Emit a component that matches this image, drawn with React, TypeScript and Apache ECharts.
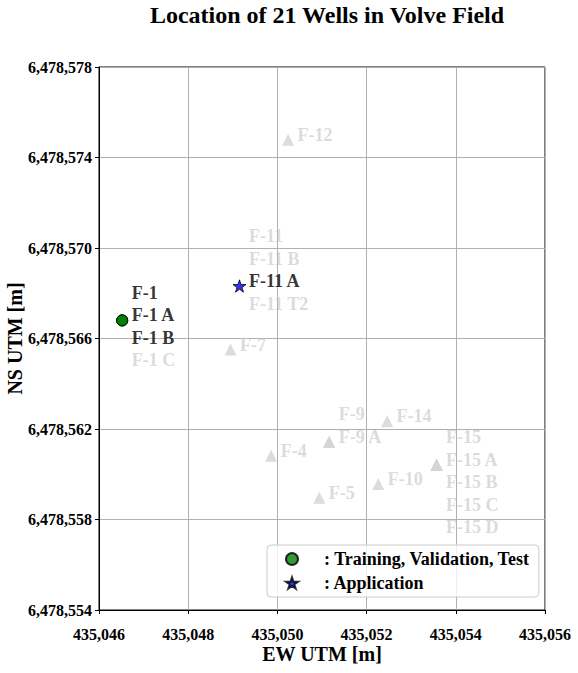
import React, { useEffect, useRef } from "react";
import * as echarts from "echarts";

const TITLE = "Location of 21 Wells in Volve Field";
const X_NAME = "EW UTM [m]";
const Y_NAME = "NS UTM [m]";
const X_MIN = 435046;
const X_MAX = 435056;
const X_STEP = 2;
const Y_TICKS = [6478554, 6478558, 6478562, 6478566, 6478570, 6478574, 6478578];
const LEGEND_TRAIN = ": Training, Validation, Test";
const LEGEND_APP = ": Application";

const wellNames = [
  "F-1", "F-1 A", "F-1 B", "F-1 C",
  "F-11", "F-11 B", "F-11 A", "F-11 T2",
  "F-12", "F-7", "F-9", "F-9 A", "F-14", "F-4", "F-5", "F-10",
  "F-15", "F-15 A", "F-15 B", "F-15 C", "F-15 D",
];
const wellEast = [
  435046.52, 435046.52, 435046.52, 435046.52,
  435049.15, 435049.15, 435049.15, 435049.15,
  435050.24, 435048.95, 435051.16, 435051.16, 435052.46, 435049.86, 435050.94, 435052.26,
  435053.57, 435053.57, 435053.57, 435053.57, 435053.57,
];
const wellNorth = [
  6478566.8, 6478566.8, 6478566.8, 6478566.8,
  6478568.32, 6478568.32, 6478568.32, 6478568.32,
  6478574.78, 6478565.51, 6478561.44, 6478561.44, 6478562.34, 6478560.82, 6478558.96, 6478559.57,
  6478560.42, 6478560.42, 6478560.42, 6478560.42, 6478560.42,
];
const wellRole = [
  "train", "train", "train", "other",
  "other", "other", "app", "other",
  "other", "other", "other", "other", "other", "other", "other", "other",
  "other", "other", "other", "other", "other",
];
const labelSlot = [-1, 0, 1, 2, -2, -1, 0, 1, 0, 0, -1, 0, 0, 0, 0, 0, -1, 0, 1, 2, 3];

const STAR = "path://M50 0 L61.23 34.55 L97.55 34.55 L68.16 55.9 L79.39 90.45 L50 69.1 L20.61 90.45 L31.84 55.9 L2.45 34.55 L38.77 34.55 Z";
const FONT = "'Liberation Serif', 'Times New Roman', serif";
const GRAY_TEXT = "rgba(192,192,192,0.72)";

export default function App() {
  const ref = useRef<HTMLDivElement>(null);
  useEffect(() => {
    if (!ref.current) return;
    const chart = echarts.init(ref.current, undefined, { renderer: "svg" });
    const fmt = (v: number) => Math.round(v).toLocaleString("en-US");

    const isKey = (i: number) => wellRole[i] !== "other";
    const trainPts: number[][] = [];
    const appPts: number[][] = [];
    const otherPts: number[][] = [];
    wellNames.forEach((_, i) => {
      const p = [wellEast[i], wellNorth[i]];
      if (wellRole[i] === "train") trainPts.push(p);
      else if (wellRole[i] === "app") appPts.push(p);
      else {
        const covered = wellNames.some(
          (_, j) => isKey(j) && wellEast[j] === wellEast[i] && wellNorth[j] === wellNorth[i]
        );
        if (!covered) otherPts.push(p);
      }
    });

    const labelData = wellNames.map((n, i) => ({
      name: n,
      value: [wellEast[i], wellNorth[i]],
      label: {
        offset: [9, -5 + labelSlot[i] * 22.5],
        color: isKey(i) ? "#000" : GRAY_TEXT,
      },
    }));

    chart.setOption({
      animation: false,
      textStyle: { fontFamily: FONT },
      title: {
        text: TITLE,
        left: 322,
        textAlign: "center",
        top: -2,
        textStyle: { fontFamily: FONT, fontSize: 24, fontWeight: "bold", color: "#000" },
      },
      grid: {
        left: 99,
        right: 33,
        top: 67,
        bottom: 63,
        outerBoundsMode: "none",
        containLabel: false,
        show: true,
        borderColor: "#000",
        borderWidth: 1,
        backgroundColor: "transparent",
      },
      legend: {
        data: [LEGEND_TRAIN, LEGEND_APP],
        orient: "vertical",
        left: 267,
        top: 545,
        padding: [5, 9, 5, 18],
        itemGap: 6,
        itemWidth: 12,
        itemHeight: 12,
        backgroundColor: "rgba(255,255,255,0.8)",
        borderColor: "#cccccc",
        borderWidth: 1,
        borderRadius: 4,
        textStyle: {
          fontFamily: FONT,
          fontSize: 18,
          fontWeight: "bold",
          color: "#000",
          padding: [0, 0, 0, 21],
        },
      },
      xAxis: {
        type: "value",
        min: X_MIN,
        max: X_MAX,
        interval: X_STEP,
        name: X_NAME,
        nameLocation: "middle",
        nameGap: 34,
        nameMoveOverlap: false,
        nameTextStyle: { fontFamily: FONT, fontSize: 20, fontWeight: "bold", color: "#000" },
        axisLine: { show: true, lineStyle: { color: "#000", width: 1 } },
        axisTick: { show: true, length: 4, lineStyle: { color: "#000" } },
        axisLabel: {
          formatter: fmt,
          margin: 16,
          fontFamily: FONT,
          fontSize: 16,
          fontWeight: "bold",
          color: "#000",
        },
        splitLine: { show: true, lineStyle: { color: "#b0b0b0", width: 1 } },
      },
      yAxis: {
        type: "value",
        min: Y_TICKS[0],
        max: Y_TICKS[Y_TICKS.length - 1],
        name: Y_NAME,
        nameLocation: "middle",
        nameGap: 74,
        nameMoveOverlap: false,
        nameTextStyle: { fontFamily: FONT, fontSize: 20, fontWeight: "bold", color: "#000" },
        axisLine: { show: true, lineStyle: { color: "#000", width: 1 } },
        axisTick: { show: true, length: 4, lineStyle: { color: "#000" }, customValues: Y_TICKS },
        axisLabel: {
          customValues: Y_TICKS,
          formatter: fmt,
          margin: 7,
          fontFamily: FONT,
          fontSize: 16,
          fontWeight: "bold",
          color: "#000",
        },
        splitLine: { show: true, lineStyle: { color: "#b0b0b0", width: 1 } },
      },
      series: [
        {
          name: "others",
          type: "scatter",
          symbol: "triangle",
          symbolSize: 12,
          itemStyle: { color: "#d3d3d3" },
          data: otherPts,
          z: 2,
          silent: true,
        },
        {
          name: LEGEND_TRAIN,
          type: "scatter",
          symbol: "circle",
          symbolSize: 11,
          itemStyle: { color: "#008000", borderColor: "#000", borderWidth: 1 },
          data: trainPts,
          z: 3,
        },
        {
          name: LEGEND_APP,
          type: "scatter",
          symbol: STAR,
          symbolKeepAspect: true,
          symbolSize: 13,
          itemStyle: { color: "#0000ff", borderColor: "#000", borderWidth: 1 },
          data: appPts,
          z: 3,
        },
        {
          name: "labels",
          type: "scatter",
          symbol: "circle",
          symbolSize: 1,
          itemStyle: { color: "rgba(0,0,0,0)" },
          silent: true,
          z: 4,
          label: {
            show: true,
            position: "right",
            distance: 0,
            formatter: "{b}",
            fontFamily: FONT,
            fontSize: 18,
            fontWeight: "bold",
          },
          data: labelData,
        },
      ],
    });
    return () => chart.dispose();
  }, []);
  return <div ref={ref} style={{ width: 578, height: 673, position: "absolute", left: 0, top: 0 }} />;
}
